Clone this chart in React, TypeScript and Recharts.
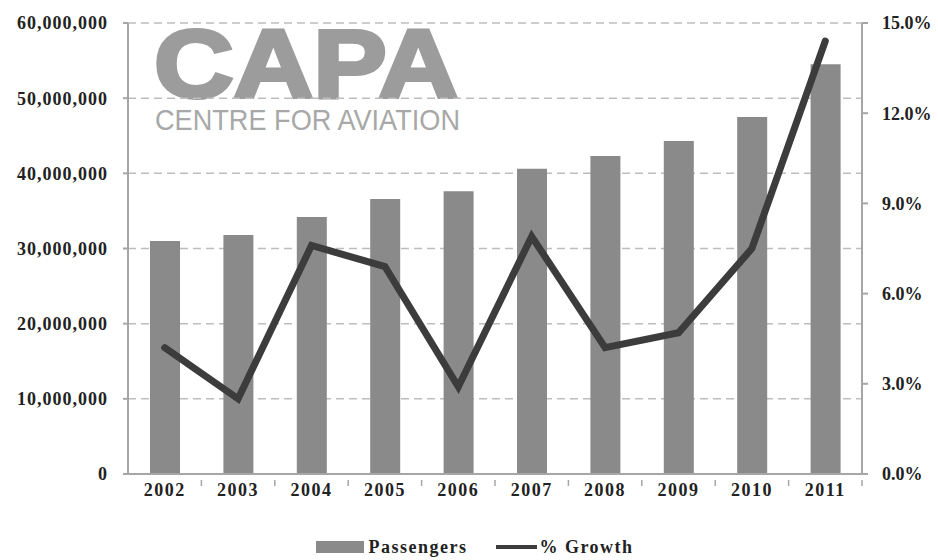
import React from 'react'
import {
  ComposedChart,
  Bar,
  Line,
  XAxis,
  YAxis,
  CartesianGrid,
  Legend,
} from 'recharts'

const years = ['2002', '2003', '2004', '2005', '2006', '2007', '2008', '2009', '2010', '2011']
const passengers = [31000000, 31800000, 34200000, 36600000, 37600000, 40600000, 42300000, 44300000, 47500000, 54500000]
const growth = [4.2, 2.5, 7.6, 6.9, 2.9, 7.9, 4.2, 4.7, 7.5, 14.4]
const leftTicks = [0, 10000000, 20000000, 30000000, 40000000, 50000000, 60000000]
const rightTicks = [0, 3, 6, 9, 12, 15]

const data = years.map((year, i) => ({
  year,
  passengers: passengers[i],
  growth: growth[i],
}))

const serif = '"Liberation Serif", "Times New Roman", serif'
const barColor = '#8a8a8a'
const lineColor = '#3c3c3c'
const axisColor = '#a6a6a6'

const tickStyle = {
  fill: '#222',
  fontSize: 18,
  fontWeight: 700,
  fontFamily: serif,
  letterSpacing: 1,
}

function YearTick(props: any) {
  const { x, y, payload, width, visibleTicksCount } = props
  const half = width / visibleTicksCount / 2
  return (
    <g>
      <line x1={x + half} x2={x + half} y1={y} y2={y + 6} stroke={axisColor} strokeWidth={1.5} />
      <text
        x={x}
        y={y + 16}
        textAnchor="middle"
        fill="#222"
        fontSize={18}
        fontWeight={700}
        fontFamily={serif}
        letterSpacing={1.5}
      >
        {payload.value}
      </text>
    </g>
  )
}

function LegendContent() {
  const text = {
    fontFamily: serif,
    fontWeight: 700,
    fontSize: 18,
    letterSpacing: 1.5,
    color: '#222',
  }
  return (
    <div
      style={{
        display: 'flex',
        justifyContent: 'center',
        alignItems: 'center',
        height: 26,
        paddingLeft: 12,
      }}
    >
      <span style={{ width: 48, height: 12, background: barColor, marginRight: 4 }} />
      <span style={text}>Passengers</span>
      <span style={{ width: 41, height: 4, background: lineColor, marginLeft: 29, marginRight: 2 }} />
      <span style={text}>% Growth</span>
    </div>
  )
}

// logo sits behind the chart, gridlines run over it
function Logo() {
  return (
    <svg width={938} height={560} style={{ position: 'absolute', left: 0, top: 0 }}>
      <g transform="translate(154 97) scale(1 1.3)">
        <text
          x={0}
          y={0}
          fontFamily='"Liberation Sans", Arial, sans-serif'
          fontWeight={700}
          fontSize={74}
          fill="#9c9c9c"
          stroke="#9c9c9c"
          strokeWidth={3}
          textLength={304}
          lengthAdjust="spacingAndGlyphs"
        >
          CAPA
        </text>
      </g>
      <text
        x={155}
        y={130}
        fontFamily='"Liberation Sans", Arial, sans-serif'
        fontWeight={400}
        fontSize={29}
        fill="#a8a8a8"
        textLength={305}
        lengthAdjust="spacingAndGlyphs"
      >
        CENTRE FOR AVIATION
      </text>
    </svg>
  )
}

export default function App() {
  return (
    <div style={{ position: 'absolute', left: 0, top: 0, width: 938, height: 560, background: '#fff' }}>
      <Logo />
      <div style={{ position: 'absolute', left: 0, top: 0 }}>
        <ComposedChart
          width={938}
          height={560}
          data={data}
          margin={{ top: 23, right: 0, left: 0, bottom: 0 }}
        >
          <CartesianGrid
            yAxisId="left"
            vertical={false}
            stroke="#bdbdbd"
            strokeDasharray="8 5"
            strokeWidth={1.5}
          />
          <XAxis
            dataKey="year"
            height={60}
            stroke={axisColor}
            strokeWidth={2}
            tickLine={false}
            tickMargin={0}
            interval={0}
            tick={<YearTick />}
          />
          <YAxis
            yAxisId="left"
            width={128}
            domain={[0, 60000000]}
            ticks={leftTicks}
            tickFormatter={(v: number) => v.toLocaleString('en-US')}
            stroke={axisColor}
            strokeWidth={2}
            tickSize={5}
            tickMargin={15}
            tick={tickStyle}
          />
          <YAxis
            yAxisId="right"
            orientation="right"
            width={76}
            domain={[0, 15]}
            ticks={rightTicks}
            tickFormatter={(v: number) => v.toFixed(1) + '%'}
            stroke={axisColor}
            strokeWidth={2}
            tickSize={6}
            tickMargin={14}
            tick={{ ...tickStyle, letterSpacing: 0 }}
          />
          <Legend verticalAlign="bottom" height={26} content={<LegendContent />} />
          <Bar
            yAxisId="left"
            dataKey="passengers"
            name="Passengers"
            fill={barColor}
            barSize={30}
            isAnimationActive={false}
          />
          <Line
            yAxisId="right"
            type="linear"
            dataKey="growth"
            name="% Growth"
            stroke={lineColor}
            strokeWidth={7}
            strokeLinecap="round"
            dot={false}
            activeDot={false}
            isAnimationActive={false}
          />
        </ComposedChart>
      </div>
    </div>
  )
}
